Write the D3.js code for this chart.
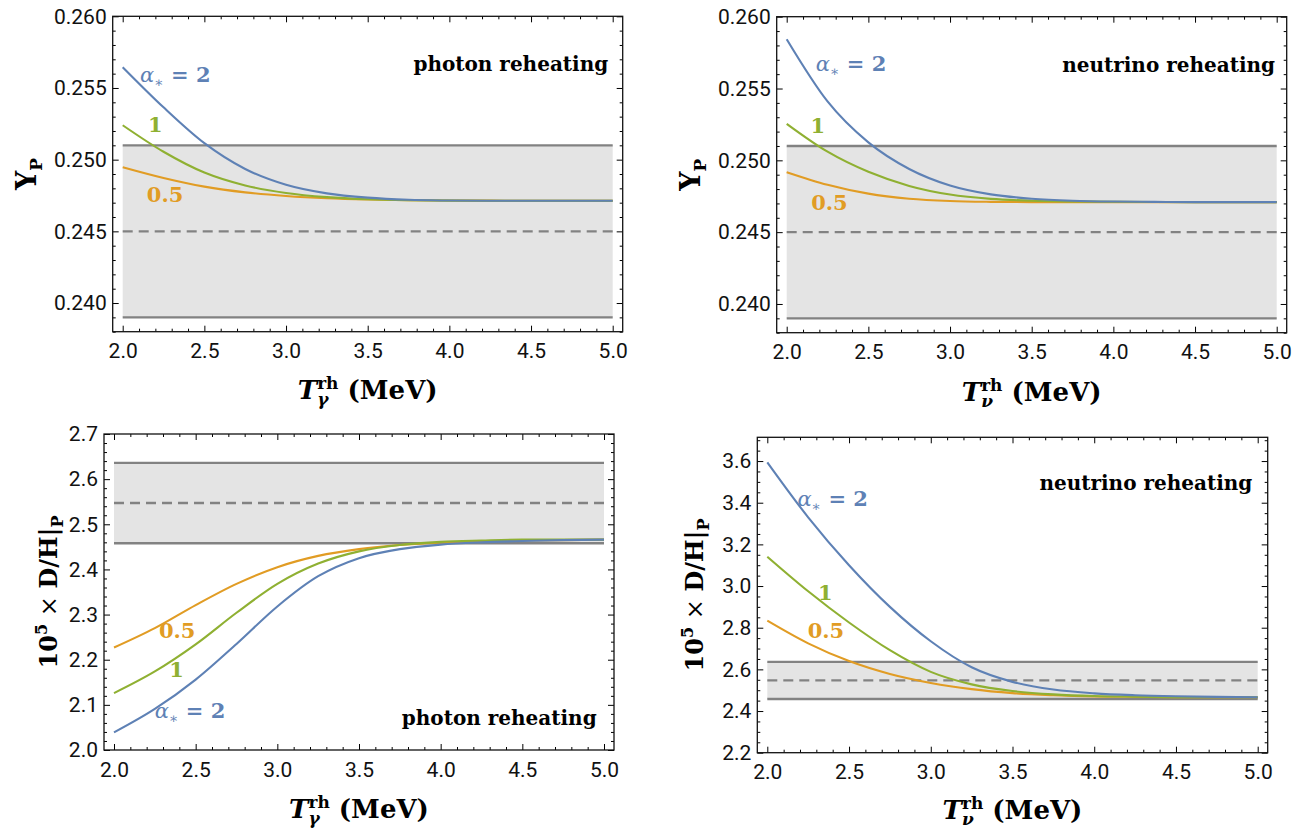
<!DOCTYPE html>
<html>
<head>
<meta charset="utf-8">
<script src="https://cdn.jsdelivr.net/npm/d3@7"></script>
<style>
  body { margin: 0; background: #fff; }
  svg text { font-family: "DejaVu Serif", serif; }
  .tick text { font-family: Roboto, sans-serif; font-size: 21px; fill: #111; }
  .tick line { stroke: #000; stroke-width: 1; }
</style>
</head>
<body>
<svg id="chart" width="1296" height="830"></svg>
<script>
// reheating temperature grid (MeV) on which the curves were read
var temps = [2.0, 2.25, 2.5, 2.75, 3.0, 3.25, 3.5, 3.75, 4.0, 4.25, 4.5, 4.75, 5.0];
var alphaLabels = ["2", "1", "0.5"];

// helium fraction Y_P, photon reheating
var ypPhoton2    = [0.25645, 0.25365, 0.25115, 0.24935, 0.24825, 0.24765, 0.24735, 0.24720, 0.24715, 0.24713, 0.24713, 0.24713, 0.24713];
var ypPhoton1    = [0.25240, 0.25055, 0.24910, 0.24820, 0.24768, 0.24739, 0.24724, 0.24717, 0.24714, 0.24713, 0.24713, 0.24713, 0.24713];
var ypPhotonHalf = [0.24947, 0.24872, 0.24812, 0.24772, 0.24747, 0.24731, 0.24722, 0.24717, 0.24715, 0.24714, 0.24713, 0.24713, 0.24713];

// helium fraction Y_P, neutrino reheating
var ypNu2    = [0.25843, 0.25410, 0.25125, 0.24940, 0.24825, 0.24763, 0.24733, 0.24719, 0.24713, 0.24711, 0.24709, 0.24709, 0.24709];
var ypNu1    = [0.25254, 0.25060, 0.24920, 0.24822, 0.24762, 0.24732, 0.24719, 0.24714, 0.24712, 0.24710, 0.24709, 0.24709, 0.24709];
var ypNuHalf = [0.24918, 0.24830, 0.24768, 0.24733, 0.24717, 0.24711, 0.24709, 0.24709, 0.24709, 0.24709, 0.24709, 0.24709, 0.24709];

// 10^5 D/H, photon reheating
var dhPhoton2    = [2.039, 2.091, 2.156, 2.235, 2.318, 2.385, 2.425, 2.445, 2.455, 2.460, 2.463, 2.465, 2.466];
var dhPhoton1    = [2.126, 2.174, 2.234, 2.304, 2.368, 2.413, 2.440, 2.454, 2.461, 2.464, 2.466, 2.466, 2.466];
var dhPhotonHalf = [2.227, 2.270, 2.321, 2.368, 2.405, 2.430, 2.445, 2.454, 2.459, 2.462, 2.464, 2.465, 2.466];

// 10^5 D/H, neutrino reheating
var dhNu2    = [3.594, 3.330, 3.100, 2.900, 2.735, 2.610, 2.540, 2.503, 2.485, 2.476, 2.471, 2.468, 2.466];
var dhNu1    = [3.141, 2.975, 2.825, 2.692, 2.588, 2.528, 2.496, 2.480, 2.472, 2.469, 2.467, 2.466, 2.466];
var dhNuHalf = [2.834, 2.725, 2.640, 2.578, 2.535, 2.505, 2.486, 2.476, 2.470, 2.468, 2.467, 2.466, 2.466];

// observed values (central, 1 sigma)
var ypObs = [0.245, 0.006];
var dhObs = [2.547, 0.089];

// tick labels
var xTicks = [2.0, 2.5, 3.0, 3.5, 4.0, 4.5, 5.0];
var ypTicks = [0.240, 0.245, 0.250, 0.255, 0.260];
var dhPhotonTicks = [2.0, 2.1, 2.2, 2.3, 2.4, 2.5, 2.6, 2.7];
var dhNuTicks = [2.2, 2.4, 2.6, 2.8, 3.0, 3.2, 3.4, 3.6];

var colors = ["#5e81b5", "#8fb032", "#e19c24"]; // alpha = 2, 1, 0.5

var svg = d3.select("#chart");

// one entry per panel: frame box in pixels plus what goes in it
var panels = [
  { x0: 112.7, x1: 622.7, y0: 16.3, y1: 331.7, yDomain: [0.238, 0.260], yTicks: ypTicks, yMinor: 0.001, yFmt: ".3f",
    obs: ypObs, series: [ypPhoton2, ypPhoton1, ypPhotonHalf], yLab: "yp", yLabX: 36, sub: "γ", xLabY: 399,
    note: "photon reheating", notePos: [4.9725, 0.25621],
    labPos: [[2.106, 0.25544], [2.155, 0.25195], [2.148, 0.24707]] },
  { x0: 776.7, x1: 1286.7, y0: 16.7, y1: 332.7, yDomain: [0.238, 0.260], yTicks: ypTicks, yMinor: 0.001, yFmt: ".3f",
    obs: ypObs, series: [ypNu2, ypNu1, ypNuHalf], yLab: "yp", yLabX: 700, sub: "ν", xLabY: 401,
    note: "neutrino reheating", notePos: [4.99, 0.25618],
    labPos: [[2.178, 0.25624], [2.145, 0.25189], [2.150, 0.24656]] },
  { x0: 104, x1: 614, y0: 434, y1: 750, yDomain: [2.0, 2.7], yTicks: dhPhotonTicks, yMinor: 0.02, yFmt: ".1f",
    obs: dhObs, series: [dhPhoton2, dhPhoton1, dhPhotonHalf], yLab: "dh", yLabX: 57, sub: "γ", xLabY: 818,
    note: "photon reheating", notePos: [4.955, 2.055],
    labPos: [[2.25, 2.070], [2.3375, 2.162], [2.275, 2.247]] },
  { x0: 757.3, x1: 1267.7, y0: 437.3, y1: 752.7, yDomain: [2.2, 3.714], yTicks: dhNuTicks, yMinor: 0.05, yFmt: ".1f",
    obs: dhObs, series: [dhNu2, dhNu1, dhNuHalf], yLab: "dh", yLabX: 703, sub: "ν", xLabY: 819,
    note: "neutrino reheating", notePos: [4.967, 3.461],
    labPos: [[2.184, 3.384], [2.31, 2.933], [2.247, 2.749]] }
];

function isMajor(v, step) {
  var r = v / step;
  return Math.abs(r - Math.round(r)) < 1e-6;
}

panels.forEach(function(p) {
  var g = svg.append("g");

  var x = d3.scaleLinear().domain([2, 5]).range([p.x0 + 10, p.x1 - 10]);
  var y = d3.scaleLinear().domain(p.yDomain).range([p.y1, p.y0]);

  // observed band
  var lo = p.obs[0] - p.obs[1], hi = p.obs[0] + p.obs[1];
  g.append("rect")
    .attr("x", x(2)).attr("width", x(5) - x(2))
    .attr("y", y(hi)).attr("height", y(lo) - y(hi))
    .attr("fill", "#e4e4e4");
  [lo, hi, p.obs[0]].forEach(function(v, i) {
    g.append("line")
      .attr("x1", x(2)).attr("x2", x(5))
      .attr("y1", y(v)).attr("y2", y(v))
      .attr("stroke", "#828282")
      .attr("stroke-width", 2.4)
      .attr("stroke-dasharray", i == 2 ? "10,6" : null);
  });

  // curves, alpha = 0.5 first so blue ends on top
  var line = d3.line()
    .x(function(d, i) { return x(temps[i]); })
    .y(function(d) { return y(d); })
    .curve(d3.curveMonotoneX);
  [2, 1, 0].forEach(function(k) {
    g.append("path")
      .datum(p.series[k])
      .attr("d", line)
      .attr("fill", "none")
      .attr("stroke", colors[k])
      .attr("stroke-width", 2.1);
  });

  // curve labels
  p.labPos.forEach(function(pos, k) {
    var t = g.append("text")
      .attr("x", x(pos[0])).attr("y", y(pos[1]))
      .attr("fill", colors[k])
      .style("font-size", "21px")
      .style("font-weight", "bold");
    if (k == 0) {
      t.append("tspan").style("font-style", "italic").style("font-weight", "normal").text("α");
      t.append("tspan").attr("dy", 5).style("font-size", "14px").style("font-weight", "normal").text("∗");
      t.append("tspan").attr("dy", -5).text(" = " + alphaLabels[k]);
    } else {
      t.text(alphaLabels[k]);
    }
  });

  // panel note
  g.append("text")
    .attr("x", x(p.notePos[0])).attr("y", y(p.notePos[1]))
    .attr("text-anchor", "end")
    .style("font-size", "20px")
    .style("font-weight", "bold")
    .text(p.note);

  // ticks on all four sides, pointing inwards
  var xMinor = d3.range(20, 51).map(function(i) { return i / 10; }).filter(function(v) { return !isMajor(v, 0.5); });
  var yMajStep = p.yTicks[1] - p.yTicks[0];
  var nMinor = Math.round((p.yDomain[1] - p.yDomain[0]) / p.yMinor);
  var yMinor = d3.range(0, nMinor + 1)
    .map(function(i) { return +(p.yDomain[0] + i * p.yMinor).toFixed(4); })
    .filter(function(v) { return !isMajor(v, yMajStep) && v <= p.yDomain[1]; });

  function axisGroup(tr) { return g.append("g").attr("transform", tr); }

  axisGroup("translate(0," + p.y1 + ")")
    .call(d3.axisBottom(x).tickValues(xTicks).tickSize(-6).tickPadding(11.6).tickFormat(d3.format(".1f")));
  axisGroup("translate(0," + p.y1 + ")")
    .call(d3.axisBottom(x).tickValues(xMinor).tickSize(-3).tickFormat(""));
  axisGroup("translate(0," + p.y0 + ")")
    .call(d3.axisTop(x).tickValues(xTicks).tickSize(-6).tickFormat(""));
  axisGroup("translate(0," + p.y0 + ")")
    .call(d3.axisTop(x).tickValues(xMinor).tickSize(-3).tickFormat(""));

  axisGroup("translate(" + p.x0 + ",0)")
    .call(d3.axisLeft(y).tickValues(p.yTicks).tickSize(-6).tickPadding(6).tickFormat(d3.format(p.yFmt)));
  axisGroup("translate(" + p.x0 + ",0)")
    .call(d3.axisLeft(y).tickValues(yMinor).tickSize(-3).tickFormat(""));
  axisGroup("translate(" + p.x1 + ",0)")
    .call(d3.axisRight(y).tickValues(p.yTicks).tickSize(-6).tickFormat(""));
  axisGroup("translate(" + p.x1 + ",0)")
    .call(d3.axisRight(y).tickValues(yMinor).tickSize(-3).tickFormat(""));

  g.selectAll(".domain").remove();

  // frame
  g.append("rect")
    .attr("x", p.x0).attr("y", p.y0)
    .attr("width", p.x1 - p.x0).attr("height", p.y1 - p.y0)
    .attr("fill", "none")
    .attr("stroke", "#111")
    .attr("stroke-width", 1.3);

  // x axis label: T^rh_sub (MeV)
  var xl = g.append("text")
    .attr("x", (p.x0 + p.x1) / 2).attr("y", p.xLabY)
    .attr("text-anchor", "middle")
    .style("font-size", "26px")
    .style("font-weight", "bold");
  xl.append("tspan").style("font-style", "italic").text("T");
  var s = xl.append("tspan").attr("dy", 6).style("font-size", "17px").style("font-style", "italic").text(p.sub);
  var r = xl.append("tspan").attr("dy", -16).style("font-size", "17px").text("rh");
  xl.append("tspan").attr("dy", 10).text(" (MeV)");
  r.attr("dx", -s.node().getComputedTextLength());

  // y axis label, rotated
  var yl = g.append("text")
    .attr("transform", "translate(" + p.yLabX + "," + ((p.y0 + p.y1) / 2) + ") rotate(-90)")
    .attr("text-anchor", "middle")
    .style("font-weight", "bold");
  if (p.yLab == "yp") {
    yl.style("font-size", "27px");
    yl.append("tspan").text("Y");
    yl.append("tspan").attr("dy", 6).style("font-size", "17px").text("P");
  } else {
    yl.style("font-size", "24px");
    yl.append("tspan").text("10");
    yl.append("tspan").attr("dy", -10).style("font-size", "16px").text("5");
    yl.append("tspan").attr("dy", 10).style("font-weight", "normal").text(" × ");
    yl.append("tspan").text("D/H|");
    yl.append("tspan").attr("dy", 6).style("font-size", "16px").text("P");
  }
});
</script>
</body>
</html>
